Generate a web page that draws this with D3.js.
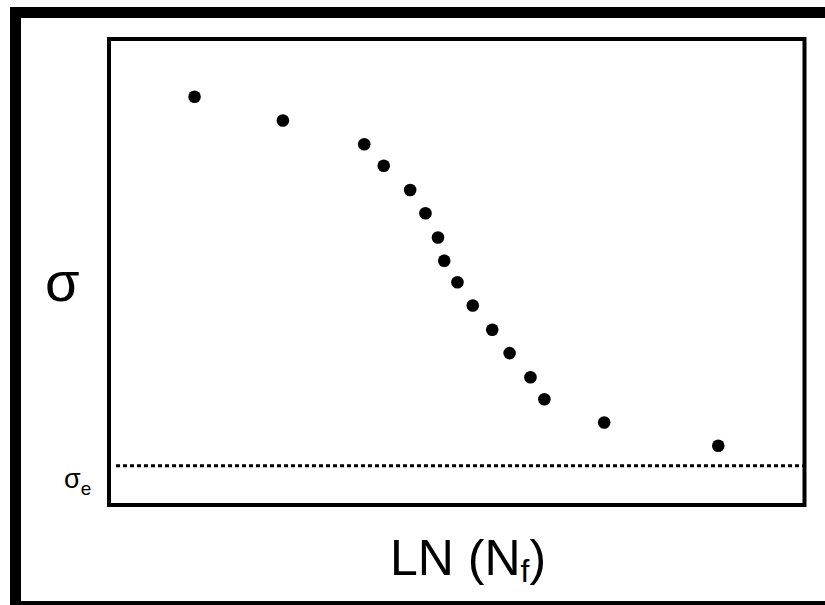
<!DOCTYPE html>
<html lang="en">
<head>
    <meta charset="UTF-8">
    <title>S-N curve</title>
    <script src="https://d3js.org/d3.v7.min.js"></script>
    <style>
    html, body {
        margin: 0;
        background: #fff;
        overflow: hidden;
    }
    svg {
        display: block;
    }
    text {
        font-family: "Liberation Sans", Arial, sans-serif;
        fill: #000;
    }
    </style>
</head>
<body>
    <script>
    // axis units 0..100 on both sides
    const lnN = [12.3, 25.0, 36.7, 39.5, 43.3, 45.5, 47.3, 48.2, 50.1, 52.3, 55.1, 57.6, 60.6, 62.6, 71.2, 87.6]
    const stress = [87.6, 82.5, 77.4, 72.8, 67.6, 62.6, 57.4, 52.4, 47.8, 42.8, 37.6, 32.6, 27.4, 22.7, 17.7, 12.7]
    const enduranceLimit = 8.4
    const xDomain = [0, 100]
    const yDomain = [0, 100]

    const width = 825, height = 605
    const svg = d3.select("body").append("svg")
        .attr("width", width)
        .attr("height", height)

    // thick outer frame: only left, top and bottom bands show
    const frame = svg.append("g").attr("fill", "#000")
    frame.append("rect").attr("x", 10).attr("y", 7).attr("width", 11).attr("height", 598)
    frame.append("rect").attr("x", 10).attr("y", 7).attr("width", 815).attr("height", 11)
    frame.append("rect").attr("x", 10).attr("y", 601).attr("width", 815).attr("height", 4)

    const plot = {left: 109, top: 39, right: 804.5, bottom: 505}

    const x = d3.scaleLinear().domain(xDomain).range([plot.left, plot.right])
    const y = d3.scaleLinear().domain(yDomain).range([plot.bottom, plot.top])

    // endurance limit line
    svg.append("line")
        .attr("x1", plot.left + 7).attr("x2", plot.right)
        .attr("y1", y(enduranceLimit)).attr("y2", y(enduranceLimit))
        .attr("stroke", "#000")
        .attr("stroke-width", 3)
        .attr("stroke-dasharray", "4,3")

    svg.append("rect")
        .attr("x", plot.left).attr("y", plot.top)
        .attr("width", plot.right - plot.left)
        .attr("height", plot.bottom - plot.top)
        .attr("fill", "none")
        .attr("stroke", "#000")
        .attr("stroke-width", 4)

    svg.append("g")
        .selectAll("circle")
        .data(lnN.map((d, i) => [d, stress[i]]))
        .enter()
        .append("circle")
        .attr("cx", d => x(d[0]))
        .attr("cy", d => y(d[1]))
        .attr("r", 6.3)
        .attr("fill", "#000")

    // labels
    svg.append("text")
        .attr("x", 45).attr("y", 301)
        .attr("font-size", 56)
        .text("σ")

    const se = svg.append("text")
        .attr("x", 64).attr("y", 488)
        .attr("font-size", 27)
    se.append("tspan").text("σ")
    se.append("tspan").attr("font-size", 19).attr("dy", 7).text("e")

    const xl = svg.append("text")
        .attr("x", 390).attr("y", 575)
        .attr("font-size", 50)
    xl.append("tspan").text("LN (N")
    xl.append("tspan").attr("font-size", 32).attr("dy", 7).text("f")
    xl.append("tspan").attr("dy", -7).text(")")
    </script>
</body>
</html>
